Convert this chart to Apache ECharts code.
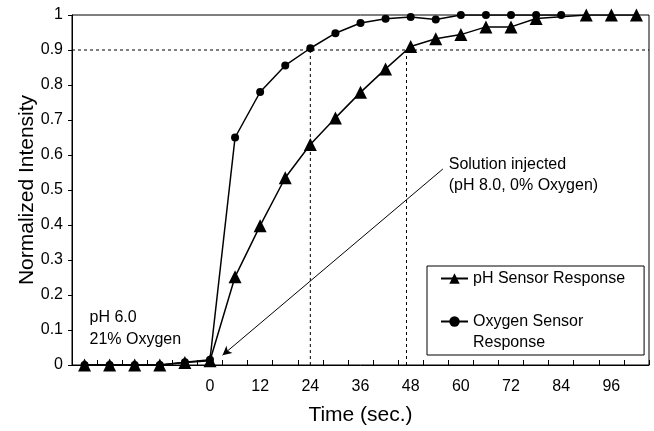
<!DOCTYPE html>
<html>
<head>
<meta charset="utf-8">
<script src="https://cdn.jsdelivr.net/npm/echarts@6/dist/echarts.min.js"></script>
<style>
html,body{margin:0;padding:0;background:#fff;}
#chart{width:654px;height:431px;}
</style>
</head>
<body>
<div id="chart"></div>
<script>
// Time categories (sec.)
var times = [-30,-24,-18,-12,-6,0,6,12,18,24,30,36,42,48,54,60,66,72,78,84,90,96,102];
// pH sensor response (triangles)
var phValues = [0,0,0,0,0.007,0.012,0.252,0.398,0.535,0.63,0.706,0.779,0.846,0.91,0.932,0.944,0.966,0.966,0.99,null,1.0,1.0,1.0];
// Oxygen sensor response (circles)
var oxValues = [0,0,0,0,0.008,0.015,0.65,0.78,0.856,0.905,0.948,0.977,0.989,0.994,0.987,1.0,1.0,1.0,1.0,1.0,null,null,null];
// Y tick labels
var yTicks = ['0','0.1','0.2','0.3','0.4','0.5','0.6','0.7','0.8','0.9','1'];
// Guide lines (time value, intensity)
var threshold = 0.9;
var t90Oxygen = 24;
var t90pH = 47;
var xStart = -33, xEnd = 105;
// Annotations
var injectArrowFrom = [55.7, 0.56];
var injectArrowTo = [3, 0.028];
var injectLabelPos = [57.1, 0.544];
var injectLabel = 'Solution injected\n(pH 8.0, 0% Oxygen)';
var initLabelPos = [-28.8, 0.103];
var initLabel = 'pH 6.0\n21% Oxygen';

var FONT = 'Liberation Sans, Arial, Helvetica, sans-serif';
var chart = echarts.init(document.getElementById('chart'));

var dashStyle = {color:'#000', width:1, type:[3,3]};

var option = {
  backgroundColor:'#fff',
  animation:false,
  textStyle:{fontFamily:FONT, color:'#000'},
  grid:{left:72, right:5, top:15, bottom:64, show:true, borderColor:'#000', borderWidth:1, backgroundColor:'transparent'},
  legend:{
    orient:'vertical',
    left:427, top:266,
    padding:[2,19,2,13],
    borderColor:'#000', borderWidth:1,
    itemWidth:27, itemHeight:13, itemGap:1,
    textStyle:{fontFamily:FONT, fontSize:16, color:'#000', lineHeight:21},
    data:['pH Sensor Response','Oxygen Sensor Response'],
    formatter:function(n){ return n==='Oxygen Sensor Response' ? ' \nOxygen Sensor\nResponse' : n; }
  },
  xAxis:[{
    type:'category',
    data:times.map(String),
    boundaryGap:true,
    name:'Time (sec.)',
    nameLocation:'middle',
    nameGap:40,
    nameMoveOverlap:false,
    nameTextStyle:{fontFamily:FONT, fontSize:21, color:'#000'},
    axisLine:{onZero:false, lineStyle:{color:'#000', width:1}},
    axisTick:{show:true, inside:true, length:5, interval:0, lineStyle:{color:'#000', width:1}},
    axisLabel:{
      fontFamily:FONT, fontSize:16, color:'#000', margin:14,
      interval:function(i, v){ var n = Number(v); return n>=0 && n%12===0; }
    },
    splitLine:{show:false}
  },{
    type:'value', min:xStart, max:xEnd, show:false
  }],
  yAxis:{
    type:'value', min:0, max:1, interval:0.1,
    name:'Normalized Intensity',
    nameLocation:'middle',
    nameGap:34,
    nameMoveOverlap:false,
    nameTextStyle:{fontFamily:FONT, fontSize:21, color:'#000'},
    axisLine:{show:true, onZero:false, lineStyle:{color:'#000', width:1}},
    axisTick:{show:true, inside:false, length:4, lineStyle:{color:'#000'}},
    axisLabel:{fontFamily:FONT, fontSize:16, color:'#000', margin:9,
      formatter:function(v){ return yTicks[Math.round(v*10)]; }},
    splitLine:{show:false}
  },
  series:[
    {
      name:'guide-h', type:'line', xAxisIndex:1, silent:true, symbol:'none',
      data:[[xStart,threshold],[xEnd,threshold]], lineStyle:dashStyle, z:1
    },
    {
      name:'guide-ox', type:'line', xAxisIndex:1, silent:true, symbol:'none',
      data:[[t90Oxygen,0],[t90Oxygen,threshold]], lineStyle:dashStyle, z:1
    },
    {
      name:'guide-ph', type:'line', xAxisIndex:1, silent:true, symbol:'none',
      data:[[t90pH,0],[t90pH,threshold]], lineStyle:dashStyle, z:1,
      markLine:{
        silent:true, animation:false,
        symbol:['none','arrow'], symbolSize:[7,9],
        lineStyle:{color:'#000', width:1, type:'solid'},
        label:{show:false},
        data:[[{coord:injectArrowFrom},{coord:injectArrowTo}]]
      },
      markPoint:{
        silent:true, animation:false,
        symbol:'circle', symbolSize:0,
        itemStyle:{color:'transparent'},
        label:{show:true, position:[0,0], align:'left', verticalAlign:'middle',
          fontFamily:FONT, fontSize:16, color:'#000', lineHeight:21},
        data:[
          {coord:injectLabelPos, label:{formatter:injectLabel}},
          {coord:initLabelPos, label:{formatter:initLabel, lineHeight:22}}
        ]
      }
    },
    {
      name:'pH Sensor Response', type:'line', xAxisIndex:0,
      data:phValues, connectNulls:true,
      symbol:'triangle', symbolSize:13, showAllSymbol:true,
      lineStyle:{color:'#000', width:1.5},
      itemStyle:{color:'#000'}, z:3
    },
    {
      name:'Oxygen Sensor Response', type:'line', xAxisIndex:0,
      data:oxValues,
      symbol:'circle', symbolSize:8, showAllSymbol:true,
      lineStyle:{color:'#000', width:1.5},
      itemStyle:{color:'#000'}, z:4
    }
  ]
};
chart.setOption(option);
</script>
</body>
</html>
